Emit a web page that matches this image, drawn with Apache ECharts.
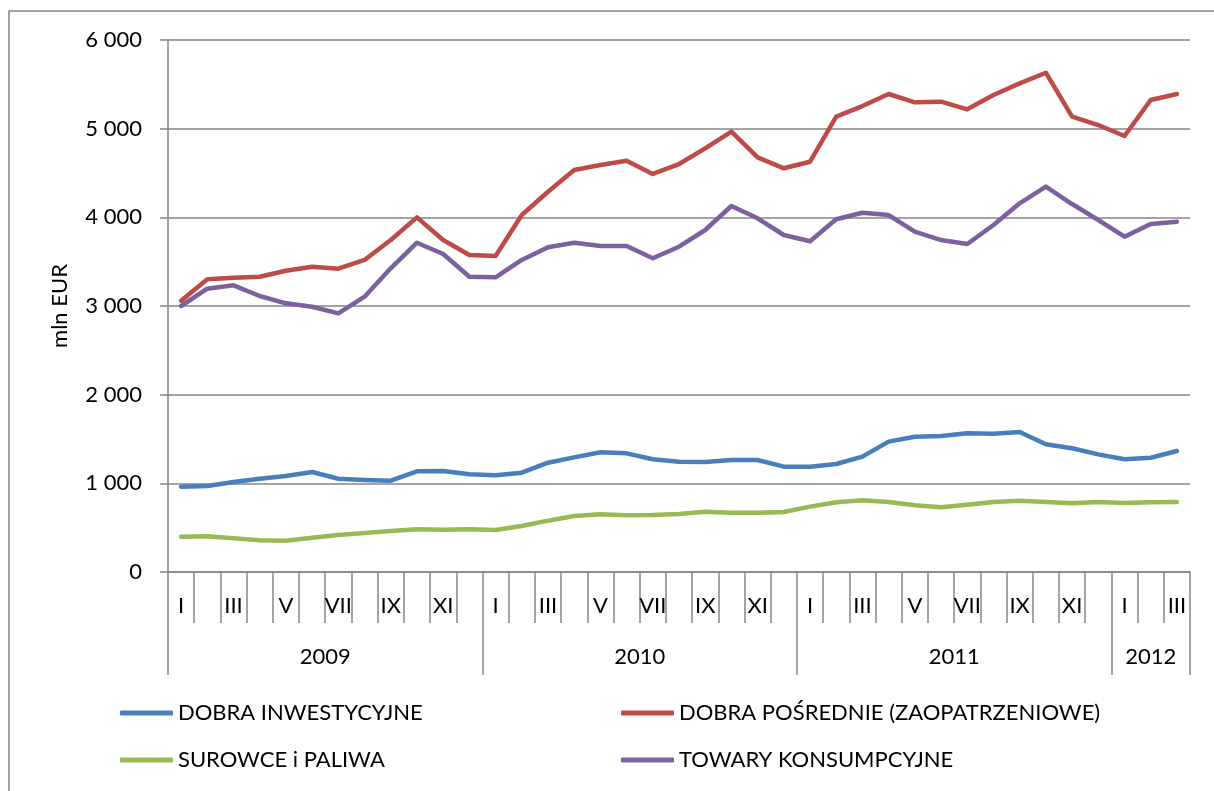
<!DOCTYPE html>
<html>
<head>
<meta charset="utf-8">
<script src="https://cdn.jsdelivr.net/npm/echarts@6/dist/echarts.min.js"></script>
<style>
  html, body { margin: 0; padding: 0; background: #fff; }
  #chart { width: 1214px; height: 791px; }
</style>
</head>
<body>
<div id="chart"></div>
<script>
// miesiące (cyfry rzymskie) i lata
const romans = ["I", "II", "III", "IV", "V", "VI", "VII", "VIII", "IX", "X", "XI", "XII"];
const years = ["2009", "2010", "2011", "2012"];
const monthsPerYear = [12, 12, 12, 3];

// wartości w mln EUR
const dobraInwestycyjne = [962, 970, 1015, 1052, 1083, 1128, 1052, 1038, 1030, 1136, 1139, 1102,
  1090, 1120, 1233, 1293, 1350, 1338, 1271, 1244, 1241, 1263, 1263, 1188,
  1188, 1218, 1301, 1470, 1526, 1534, 1564, 1560, 1579, 1440, 1395, 1327,
  1271, 1289, 1365];
const dobraPosrednie = [3060, 3301, 3319, 3330, 3398, 3443, 3421, 3519, 3744, 4000, 3744, 3575,
  3564, 4026, 4289, 4534, 4590, 4639, 4489, 4601, 4778, 4966, 4677, 4553,
  4627, 5135, 5255, 5391, 5297, 5304, 5218, 5380, 5511, 5631, 5135, 5041,
  4917, 5323, 5391];
const surowcePaliwa = [398, 402, 380, 357, 353, 387, 417, 440, 462, 481, 477, 481,
  474, 519, 579, 632, 651, 639, 643, 654, 680, 669, 669, 677,
  737, 786, 808, 789, 752, 730, 759, 789, 804, 789, 775, 789,
  778, 786, 789];
const towaryKonsumpcyjne = [3000, 3195, 3233, 3113, 3030, 2992, 2917, 3105, 3425, 3714, 3586, 3330,
  3323, 3519, 3662, 3714, 3677, 3677, 3538, 3669, 3857, 4128, 3989, 3801,
  3730, 3978, 4052, 4026, 3838, 3744, 3699, 3913, 4158, 4346, 4150, 3970,
  3782, 3925, 3951];

const seriesNames = ["DOBRA INWESTYCYJNE", "DOBRA POŚREDNIE (ZAOPATRZENIOWE)", "SUROWCE i PALIWA", "TOWARY KONSUMPCYJNE"];
const colors = ["#4a7ebb", "#be4b48", "#98b954", "#7d60a0"];

// kategorie osi X
const categories = [];
const yearBounds = [0];
const yearCenters = [];
monthsPerYear.forEach((n, y) => {
  for (let m = 0; m < n; m++) categories.push(romans[m]);
  yearCenters.push(yearBounds[y] + n / 2);
  yearBounds.push(yearBounds[y] + n);
});

const FONT = "Lato";
const gray = "#868686";

const chart = echarts.init(document.getElementById("chart"));

const legendPos = [
  { left: 120, top: 702 },
  { left: 621, top: 702 },
  { left: 120, top: 749 },
  { left: 621, top: 749 },
];

const option = {
  animation: false,
  color: colors,
  textStyle: { fontFamily: FONT },
  graphic: [
    {
      type: "rect",
      shape: { x: 9, y: 11, width: 1300, height: 900 },
      style: { fill: "none", stroke: gray, lineWidth: 1.5 },
      silent: true,
    },
  ],
  legend: seriesNames.map((name, i) => ({
    data: [name],
    left: legendPos[i].left,
    top: legendPos[i].top,
    padding: 0,
    icon: "roundRect",
    itemWidth: 53,
    itemHeight: 5,
    itemGap: 5,
    textStyle: { fontFamily: FONT, fontSize: 22, color: "#000" },
  })),
  grid: { left: 168, right: 24, top: 40, bottom: 219 },
  xAxis: [
    {
      type: "category",
      data: categories,
      boundaryGap: true,
      axisLine: { show: true, lineStyle: { color: gray, width: 1.5 } },
      axisTick: { show: true, interval: 0, alignWithLabel: false, length: 51, lineStyle: { color: gray, width: 1.5 } },
      axisLabel: { interval: 1, margin: 23, fontSize: 22, color: "#000", fontFamily: FONT },
      splitLine: { show: false },
    },
    {
      type: "value",
      min: 0,
      max: categories.length,
      position: "bottom",
      axisLine: { show: false },
      axisTick: { show: true, length: 103, customValues: yearBounds, lineStyle: { color: gray, width: 1.5 } },
      axisLabel: {
        customValues: yearCenters,
        margin: 74,
        fontSize: 22,
        color: "#000",
        fontFamily: FONT,
        formatter: (v) => years[yearCenters.indexOf(v)],
      },
      splitLine: { show: false },
    },
  ],
  yAxis: {
    type: "value",
    min: 0,
    max: 6000,
    interval: 1000,
    name: "mln EUR",
    nameLocation: "middle",
    nameGap: 97,
    nameTextStyle: { fontSize: 22, color: "#000", fontFamily: FONT },
    axisLine: { show: true, lineStyle: { color: gray, width: 1.5 } },
    axisTick: { show: true, length: 8, lineStyle: { color: gray, width: 1.5 } },
    axisLabel: {
      margin: 26,
      fontSize: 22,
      color: "#000",
      fontFamily: FONT,
      formatter: (v) => String(v).replace(/\B(?=(\d{3})+(?!\d))/g, " "),
    },
    splitLine: { show: true, lineStyle: { color: gray, width: 1.5 } },
  },
  series: [dobraInwestycyjne, dobraPosrednie, surowcePaliwa, towaryKonsumpcyjne].map((d, i) => ({
    name: seriesNames[i],
    type: "line",
    data: d,
    showSymbol: false,
    symbol: "none",
    lineStyle: { width: 4.5, color: colors[i], cap: "round", join: "round" },
    itemStyle: { color: colors[i] },
  })),
};

chart.setOption(option);
</script>
</body>
</html>
